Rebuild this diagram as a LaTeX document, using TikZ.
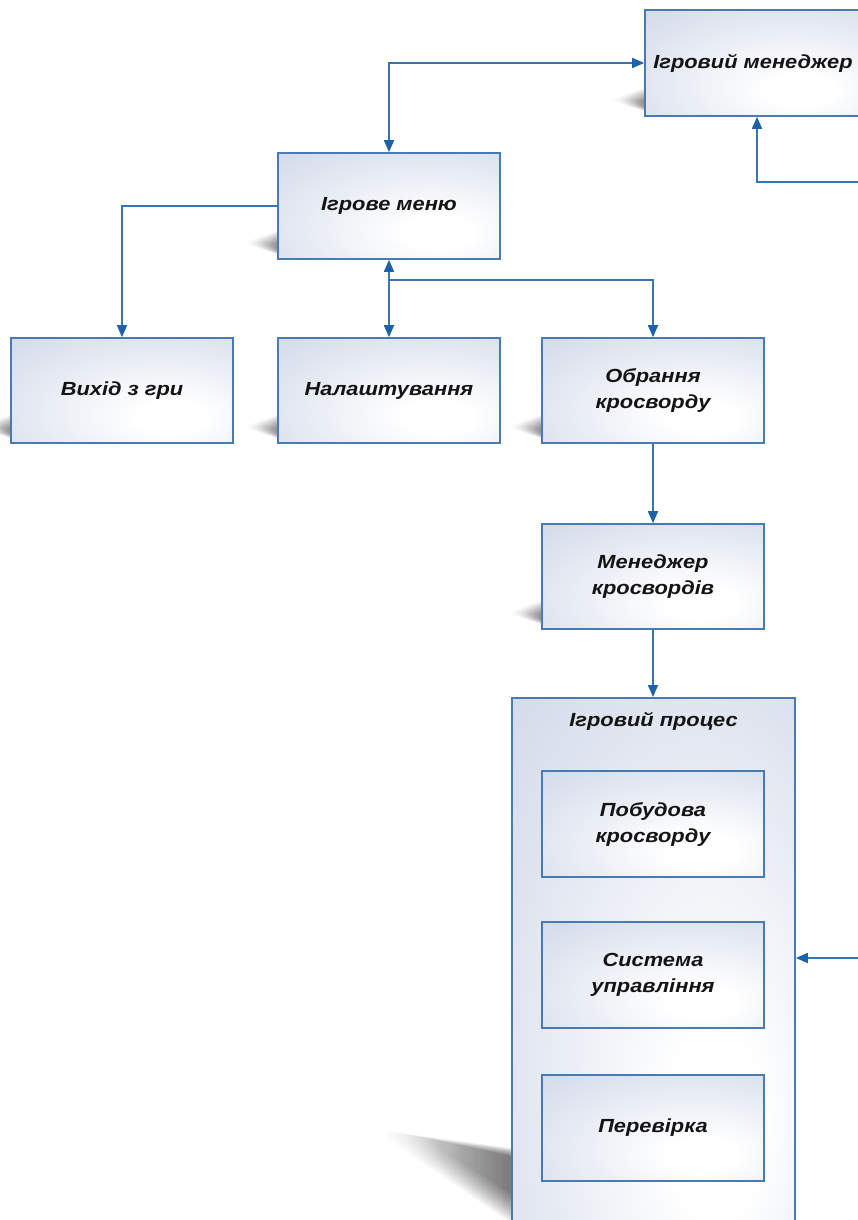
\documentclass[tikz,border=0pt]{standalone}
\usepackage{fontspec}
\newfontfamily\boxfont{Liberation Sans}[FakeStretch=1.15]
\usetikzlibrary{arrows.meta,fadings}

\definecolor{edgeblue}{HTML}{4A7AB2}
\definecolor{linkblue}{HTML}{3A73B0}
\definecolor{tipblue}{HTML}{1E62AA}
\definecolor{boxtint}{HTML}{BCC6DD}
\definecolor{boxmid}{HTML}{C9D1E4}
\definecolor{boxpale}{HTML}{E4E9F2}

% soft bluish fill, brightest a little below and right of the centre
\pgfdeclareradialshading{boxglow}{\pgfpoint{12bp}{-14bp}}{%
  color(0bp)=(white); color(8bp)=(white); color(30bp)=(boxpale);
  color(55bp)=(boxmid); color(75bp)=(boxtint); color(100bp)=(boxtint)}

\tikzset{
  >={Triangle[length=12pt,width=10pt,color=tipblue]},
  unit/.style={draw=edgeblue, line width=1.6pt, shading=boxglow,
    minimum width=222pt, minimum height=105pt, inner sep=0pt,
    align=center, text=black!92,
    font=\boxfont\bfseries\itshape\fontsize{19}{26}\selectfont},
  caption/.style={text=black!92, inner sep=0pt,
    font=\boxfont\bfseries\itshape\fontsize{19}{26}\selectfont},
  link/.style={draw=linkblue, line width=1.6pt},
  % wedge of shadow cast to the left of a box's lower corner
  castshadow/.pic={
    \foreach \g in {0,...,10}{
      \fill[black, fill opacity=0.075, path fading=west]
        (12,-1-\g*0.3) -- (-36+\g*2.3,-16) -- (12,-32+\g*1.7) -- cycle;
    }
  }
}

\begin{document}
\begin{tikzpicture}[x=1pt,y=-1pt]
\useasboundingbox (0,0) rectangle (858,1220);
\clip (0,0) rectangle (858,1220);
\fill[white] (0,0) rectangle (858,1220);

% shadows
\pic at (278,259) {castshadow};
\pic at (645,116) {castshadow};
\pic at (11,443) {castshadow};
\pic at (278,443) {castshadow};
\pic at (542,443) {castshadow};
\pic at (542,629) {castshadow};
\pic at (542,877) {castshadow};
\pic at (542,1028) {castshadow};
\pic at (542,1181) {castshadow};
\foreach \g in {0,...,12}{
  \fill[black, fill opacity=0.06, path fading=west]
    (525,1150+\g*0.8) -- (372+\g*4,1129+\g*0.6) -- (525,1232-\g*2.5) -- cycle;
}

% boxes
\node[unit, minimum width=216pt, minimum height=106pt] (mgr) at (753,63) {Ігровий менеджер};
\node[unit, minimum height=106pt] (menu) at (389,206) {Ігрове меню};
\node[unit] (quit) at (122,390.5) {Вихід з гри};
\node[unit] (sett) at (389,390.5) {Налаштування};
\node[unit] (pick) at (653,390.5) {Обрання\\кросворду};
\node[unit] (cwm) at (653,576.5) {Менеджер\\кросвордів};
\node[unit, minimum width=283pt, minimum height=565pt, anchor=north] (proc) at (653.5,697) {};
\node[caption] (proctitle) at (653.5,721) {Ігровий процес};
\node[unit, minimum height=106pt] (build) at (653,824) {Побудова\\кросворду};
\node[unit, minimum height=106pt] (ctrl) at (653,975) {Система\\управління};
\node[unit, minimum height=106pt] (check) at (653,1128) {Перевірка};

% connectors
\coordinate (feedA) at (880,182);
\coordinate (feedB) at (880,958);
\coordinate (fork) at (389,280);
\draw[link,<->] (menu.north) |- (mgr.west);
\draw[link,->] (feedA) -| ([xshift=4pt]mgr.south);
\draw[link,->] (menu.west) -| (quit.north);
\draw[link,<->] (menu.south) -- (sett.north);
\draw[link,->] (fork) -| (pick.north);
\draw[link,->] (pick.south) -- (cwm.north);
\draw[link,->] (cwm.south) -- (cwm.south |- proc.north);
\draw[link,->] (feedB) -- (feedB -| proc.east);
\end{tikzpicture}
\end{document}
